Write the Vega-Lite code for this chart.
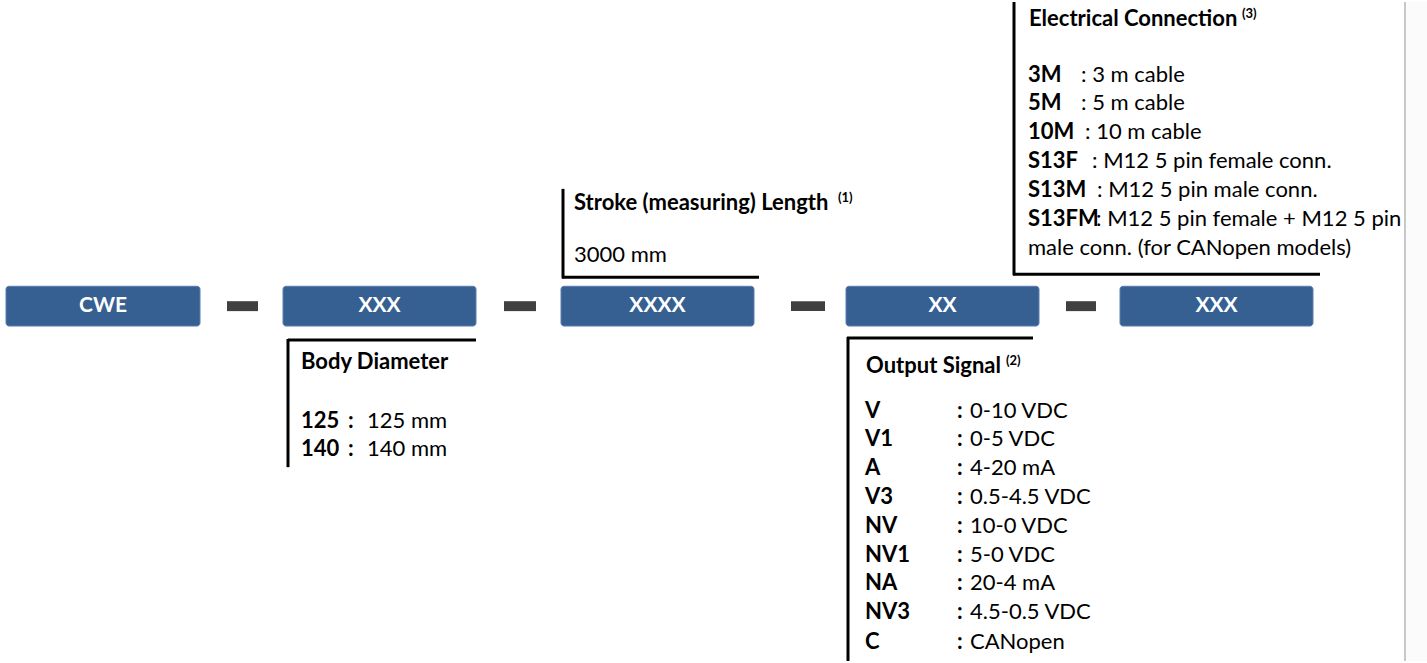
{
  "$schema": "https://vega.github.io/schema/vega-lite/v6.json",
  "width": 1427,
  "height": 663,
  "autosize": {"type": "fit", "contains": "padding"},
  "padding": 0,
  "background": "#ffffff",
  "config": {"view": {"stroke": null}},
  "datasets": {
    "boxes": [
      {"x": 6, "x2": 200, "y": 286, "y2": 326, "label": "CWE"},
      {"x": 283, "x2": 476, "y": 286, "y2": 326, "label": "XXX"},
      {"x": 561, "x2": 754, "y": 286, "y2": 326, "label": "XXXX"},
      {"x": 846, "x2": 1039, "y": 286, "y2": 326, "label": "XX"},
      {"x": 1120, "x2": 1313, "y": 286, "y2": 326, "label": "XXX"}
    ],
    "dashes": [
      {"x": 227, "x2": 258, "y": 301, "y2": 311},
      {"x": 504, "x2": 536, "y": 301, "y2": 311},
      {"x": 791, "x2": 825, "y": 301, "y2": 311},
      {"x": 1066, "x2": 1096, "y": 301, "y2": 311}
    ],
    "lines": [
      {"x": 288, "x2": 476, "y": 340, "y2": 340},
      {"x": 288, "x2": 288, "y": 339, "y2": 468},
      {"x": 563, "x2": 563, "y": 188, "y2": 278},
      {"x": 562, "x2": 759, "y": 277, "y2": 277},
      {"x": 847, "x2": 1033, "y": 338, "y2": 338},
      {"x": 848, "x2": 848, "y": 337, "y2": 663},
      {"x": 1014, "x2": 1014, "y": 0, "y2": 275},
      {"x": 1013, "x2": 1320, "y": 274, "y2": 274}
    ],
    "bold": [
      {"x": 301, "y": 362, "t": "Body Diameter"},
      {"x": 301, "y": 422, "t": "125"},
      {"x": 348, "y": 422, "t": ":"},
      {"x": 301, "y": 450, "t": "140"},
      {"x": 348, "y": 450, "t": ":"},
      {"x": 574, "y": 202, "t": "Stroke (measuring) Length"},
      {"x": 866, "y": 366, "t": "Output Signal"},
      {"x": 865, "y": 411, "t": "V"},
      {"x": 865, "y": 440, "t": "V1"},
      {"x": 865, "y": 469, "t": "A"},
      {"x": 865, "y": 498, "t": "V3"},
      {"x": 865, "y": 527, "t": "NV"},
      {"x": 865, "y": 556, "t": "NV1"},
      {"x": 865, "y": 585, "t": "NA"},
      {"x": 865, "y": 614, "t": "NV3"},
      {"x": 865, "y": 644, "t": "C"},
      {"x": 957, "y": 411, "t": ":"},
      {"x": 957, "y": 440, "t": ":"},
      {"x": 957, "y": 469, "t": ":"},
      {"x": 957, "y": 498, "t": ":"},
      {"x": 957, "y": 527, "t": ":"},
      {"x": 957, "y": 556, "t": ":"},
      {"x": 957, "y": 585, "t": ":"},
      {"x": 957, "y": 614, "t": ":"},
      {"x": 957, "y": 644, "t": ":"},
      {"x": 1029, "y": 17, "t": "Electrical Connection"},
      {"x": 1028, "y": 73, "t": "3M"},
      {"x": 1028, "y": 102, "t": "5M"},
      {"x": 1028, "y": 131, "t": "10M"},
      {"x": 1028, "y": 160, "t": "S13F"},
      {"x": 1028, "y": 189, "t": "S13M"},
      {"x": 1028, "y": 218, "t": "S13FM"}
    ],
    "regular": [
      {"x": 367, "y": 422, "t": "125 mm"},
      {"x": 367, "y": 450, "t": "140 mm"},
      {"x": 574, "y": 255, "t": "3000 mm"},
      {"x": 970, "y": 411, "t": "0-10 VDC"},
      {"x": 970, "y": 440, "t": "0-5 VDC"},
      {"x": 970, "y": 469, "t": "4-20 mA"},
      {"x": 970, "y": 498, "t": "0.5-4.5 VDC"},
      {"x": 970, "y": 527, "t": "10-0 VDC"},
      {"x": 970, "y": 556, "t": "5-0 VDC"},
      {"x": 970, "y": 585, "t": "20-4 mA"},
      {"x": 970, "y": 614, "t": "4.5-0.5 VDC"},
      {"x": 970, "y": 644, "t": "CANopen"},
      {"x": 1081, "y": 73, "t": ": 3 m cable"},
      {"x": 1081, "y": 102, "t": ": 5 m cable"},
      {"x": 1085, "y": 131, "t": ": 10 m cable"},
      {"x": 1092, "y": 160, "t": ": M12 5 pin female conn."},
      {"x": 1097, "y": 189, "t": ": M12 5 pin male conn."},
      {"x": 1096, "y": 218, "t": ": M12 5 pin female + M12 5 pin"},
      {"x": 1028, "y": 247, "t": "male conn. (for CANopen models)"}
    ],
    "sup": [
      {"x": 838, "y": 197, "t": "(1)"},
      {"x": 1006, "y": 361, "t": "(2)"},
      {"x": 1242, "y": 12, "t": "(3)"}
    ],
    "edge": [
      {"x": 1405, "x2": 1405, "y": 0, "y2": 663}
    ],
    "margin": [
      {"x": 1406, "x2": 1427, "y": 0, "y2": 663}
    ]
  },
  "encoding": {
    "x": {"field": "x", "type": "quantitative", "scale": {"domain": [0, 1427], "nice": false, "zero": false}, "axis": null},
    "y": {"field": "y", "type": "quantitative", "scale": {"domain": [0, 663], "reverse": true, "nice": false, "zero": false}, "axis": null}
  },
  "layer": [
    {
      "data": {"name": "margin"},
      "mark": {"type": "rect", "fill": "#fbfbfb"},
      "encoding": {"x2": {"field": "x2"}, "y2": {"field": "y2"}}
    },
    {
      "data": {"name": "edge"},
      "mark": {"type": "rule", "color": "#c8c8c8", "strokeWidth": 2},
      "encoding": {"x2": {"field": "x2"}, "y2": {"field": "y2"}}
    },
    {
      "data": {"name": "boxes"},
      "mark": {"type": "rect", "fill": "#366092", "stroke": "#5a7eab", "strokeWidth": 1, "cornerRadius": 3},
      "encoding": {"x2": {"field": "x2"}, "y2": {"field": "y2"}}
    },
    {
      "data": {"name": "boxes"},
      "transform": [
        {"calculate": "(datum.x + datum.x2) / 2", "as": "cx"},
        {"calculate": "(datum.y + datum.y2) / 2", "as": "cy"}
      ],
      "mark": {"type": "text", "font": "Lato", "fontSize": 21, "fontWeight": "bold", "color": "#ffffff", "align": "center", "baseline": "middle"},
      "encoding": {
        "x": {"field": "cx", "type": "quantitative"},
        "y": {"field": "cy", "type": "quantitative"},
        "text": {"field": "label"}
      }
    },
    {
      "data": {"name": "dashes"},
      "mark": {"type": "rect", "fill": "#404040"},
      "encoding": {"x2": {"field": "x2"}, "y2": {"field": "y2"}}
    },
    {
      "data": {"name": "lines"},
      "mark": {"type": "rule", "color": "#000000", "strokeWidth": 3},
      "encoding": {"x2": {"field": "x2"}, "y2": {"field": "y2"}}
    },
    {
      "data": {"name": "bold"},
      "mark": {"type": "text", "font": "Lato", "fontSize": 22, "fontWeight": "bold", "color": "#000000", "align": "left", "baseline": "middle"},
      "encoding": {"text": {"field": "t"}}
    },
    {
      "data": {"name": "regular"},
      "mark": {"type": "text", "font": "Lato", "fontSize": 22, "fontWeight": "normal", "color": "#000000", "align": "left", "baseline": "middle"},
      "encoding": {"text": {"field": "t"}}
    },
    {
      "data": {"name": "sup"},
      "mark": {"type": "text", "font": "Lato", "fontSize": 13, "fontWeight": "bold", "color": "#000000", "align": "left", "baseline": "middle"},
      "encoding": {"text": {"field": "t"}}
    }
  ]
}
